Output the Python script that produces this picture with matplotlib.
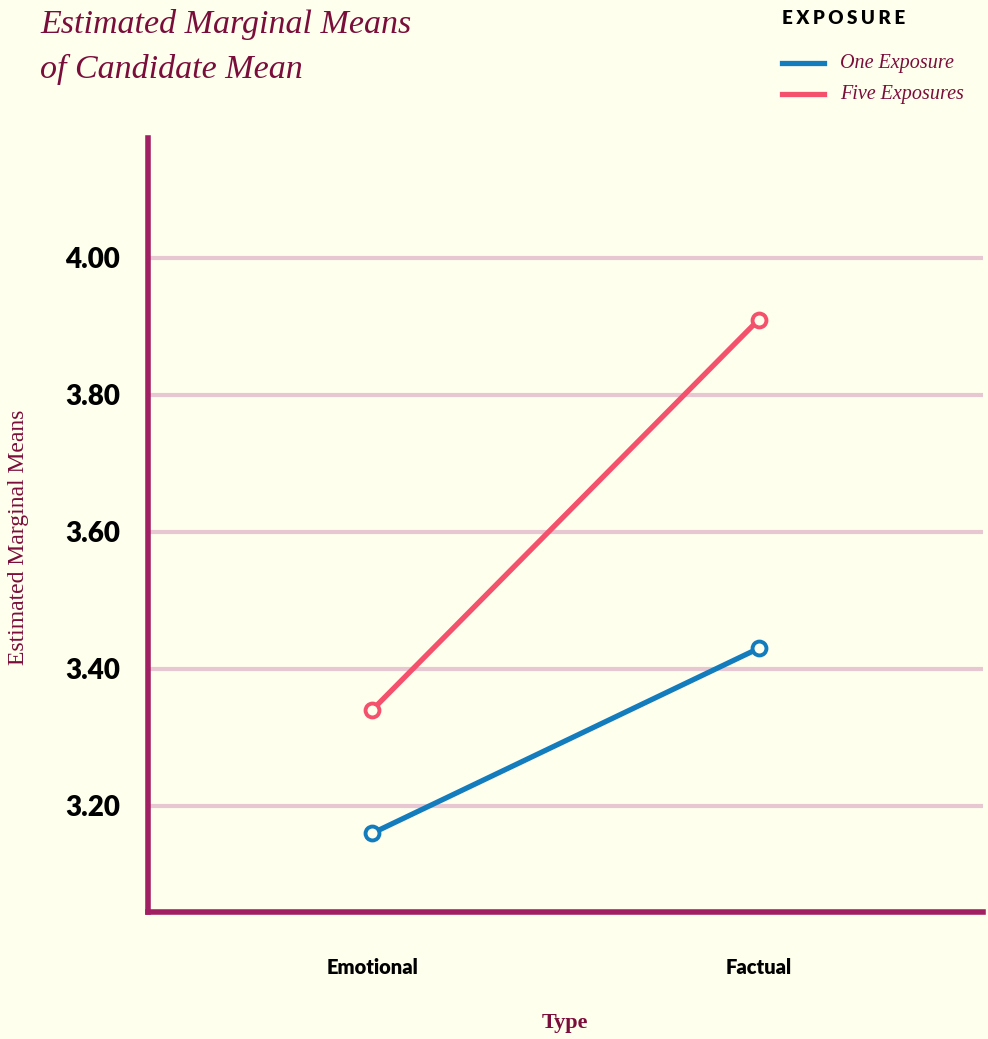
import matplotlib.pyplot as plt
from matplotlib.lines import Line2D

# estimated marginal means by message type
types = ["Emotional", "Factual"]
one_exposure = [3.16, 3.43]
five_exposures = [3.34, 3.91]
y_ticks = [3.20, 3.40, 3.60, 3.80, 4.00]
y_tick_labels = ["3.20", "3.40", "3.60", "3.80", "4.00"]

bg = "#FFFFEE"
maroon = "#7A0E3A"
spine = "#A11F63"
grid = "#E7C7D2"
blue = "#137CBD"
pink = "#F4516C"

serif = ["Liberation Serif", "DejaVu Serif"]
sans = ["Lato", "DejaVu Sans"]

fig = plt.figure(figsize=(9.88, 10.39), dpi=100, facecolor=bg)
ax = fig.add_axes([0.1498, 0.1222, 0.8452, 0.745], facecolor=bg)

x = list(range(len(types)))
for vals, col in [(one_exposure, blue), (five_exposures, pink)]:
    ax.plot(x, vals, color=col, lw=3.8, marker="o", ms=10, mew=2.8,
            mfc=bg, mec=col, zorder=3, solid_capstyle="butt")

ax.set_xlim(-0.58, 1.58)
ax.set_ylim(3.045, 4.175)

ax.set_yticks(y_ticks)
ax.set_yticklabels(y_tick_labels, family=sans, fontweight="heavy", fontsize=20)
ax.set_xticks(x)
ax.set_xticklabels(types, family=sans, fontweight="heavy", fontsize=14.5)
ax.tick_params(axis="y", length=0, pad=20)
ax.tick_params(axis="x", length=0, pad=33)

for yv in y_ticks:
    ax.axhline(yv, color=grid, lw=3, zorder=1)

for s in ["top", "right"]:
    ax.spines[s].set_visible(False)
for s in ["left", "bottom"]:
    ax.spines[s].set_color(spine)
    ax.spines[s].set_linewidth(4)
    ax.spines[s].set_zorder(4)

fig.text(0.0405, 0.991, "Estimated Marginal Means\nof Candidate Mean",
         family=serif, style="italic", fontsize=24.5, color=maroon,
         va="top", ha="left", linespacing=1.55)

fig.text(0.019, 0.483, "Estimated Marginal Means", family=serif, fontsize=17,
         color=maroon, rotation=90, va="center", ha="center")
fig.text(0.572, 0.015, "Type", family=serif, fontsize=16, fontweight="bold",
         color=maroon, va="center", ha="center")

# legend
fig.text(0.791, 0.982, "\u2009\u200a".join("EXPOSURE"), family=sans,
         fontweight="heavy", fontsize=13.5, color="black", va="center", ha="left")
for i, (label, col) in enumerate([("One Exposure", blue), ("Five Exposures", pink)]):
    yy = 0.939 - i * 0.0295
    fig.add_artist(Line2D([0.791, 0.834], [yy, yy], color=col, lw=3.8,
                          transform=fig.transFigure))
    fig.text(0.850, yy, label, family=serif, style="italic", fontsize=14.5,
             color=maroon, va="center", ha="left")

fig.savefig("out.png", dpi=100, facecolor=bg)
